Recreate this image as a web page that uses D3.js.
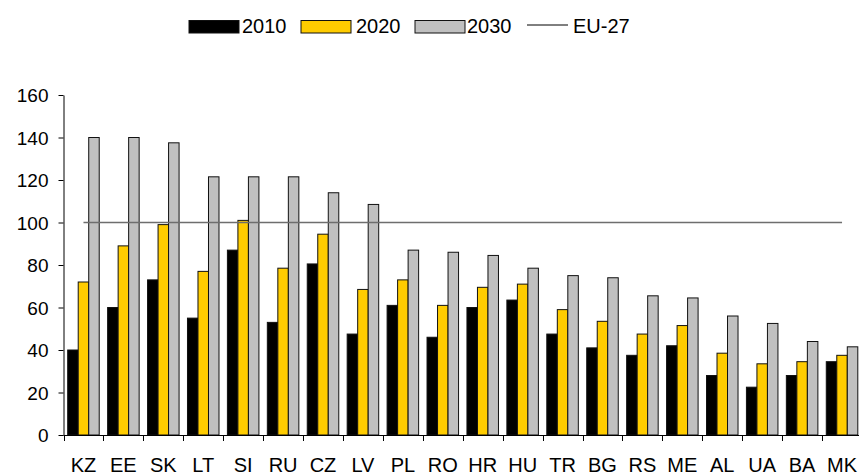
<!DOCTYPE html>
<html>
<head>
<meta charset="utf-8">
<script src="https://cdn.jsdelivr.net/npm/d3@7"></script>
<style>
  html, body { margin: 0; padding: 0; background: #fff; overflow: hidden; }
  svg { display: block; font-family: "Liberation Sans", Arial, sans-serif; }
</style>
</head>
<body>
<svg id="chart" width="859" height="475"></svg>
<script>
// Countries along the x axis
const categories = ["KZ","EE","SK","LT","SI","RU","CZ","LV","PL","RO","HR","HU","TR","BG","RS","ME","AL","UA","BA","MK"];
// Index values per year
const v2010 = [40, 60, 73, 55, 87, 53, 80.5, 47.5, 61, 46, 60, 63.5, 47.5, 41, 37.5, 42, 28, 22.5, 28, 34.5];
const v2020 = [72, 89, 99, 77, 101, 78.5, 94.5, 68.5, 73, 61, 69.5, 71, 59, 53.5, 47.5, 51.5, 38.5, 33.5, 34.5, 37.5];
const v2030 = [140, 140, 137.5, 121.5, 121.5, 121.5, 114, 108.5, 87, 86, 84.5, 78.5, 75, 74, 65.5, 64.5, 56, 52.5, 44, 41.5];
const seriesNames = ["2010", "2020", "2030"];
const seriesColors = ["#000000", "#FFCC00", "#C0C0C0"];
const euLabel = "EU-27";
const euLevel = 100;
const yTicks = [0, 20, 40, 60, 80, 100, 120, 140, 160];

const seriesValues = [v2010, v2020, v2030];
const svg = d3.select("#chart");

const plot = { left: 63.5, right: 862, top: 95, bottom: 435 };

const x = d3.scaleBand().domain(categories).range([plot.left, plot.right]).padding(0);
const xs = d3.scaleBand().domain(seriesNames).range([0, x.bandwidth()])
  .paddingInner(0).paddingOuter(0.4);
const y = d3.scaleLinear().domain([0, 160]).range([plot.bottom, plot.top]);

// Bars
const rows = categories.map((c, i) => ({ c, vals: seriesNames.map((s, k) => ({ s, k, v: seriesValues[k][i] })) }));
const groups = svg.append("g").selectAll("g").data(rows).join("g")
  .attr("transform", d => `translate(${x(d.c)},0)`);
groups.selectAll("rect").data(d => d.vals).join("rect")
  .attr("x", d => xs(d.s))
  .attr("y", d => y(d.v))
  .attr("width", xs.bandwidth())
  .attr("height", d => y(0) - y(d.v))
  .attr("fill", d => seriesColors[d.k])
  .attr("stroke", "#111")
  .attr("stroke-width", 1);

// EU-27 reference line, from first to last category centre
svg.append("line")
  .attr("x1", x(categories[0]) + x.bandwidth() / 2)
  .attr("x2", x(categories[categories.length - 1]) + x.bandwidth() / 2)
  .attr("y1", y(euLevel)).attr("y2", y(euLevel))
  .attr("stroke", "#6e6e6e").attr("stroke-width", 1.5);

// Y axis
const yAxis = svg.append("g")
  .attr("transform", `translate(${plot.left},0)`)
  .call(d3.axisLeft(y).tickValues(yTicks).tickSize(5).tickPadding(10).tickSizeOuter(0));
yAxis.select(".domain").attr("stroke", "#000");
yAxis.selectAll(".tick line").attr("stroke", "#000");
yAxis.selectAll(".tick text").attr("font-size", 19).attr("fill", "#000")
  .attr("font-family", "Liberation Sans, Arial, sans-serif").attr("dy", "0.36em");

// X axis: line, ticks on category boundaries, labels at centres
const xAxis = svg.append("g");
xAxis.append("line")
  .attr("x1", plot.left).attr("x2", plot.right)
  .attr("y1", y(0) + 0.5).attr("y2", y(0) + 0.5)
  .attr("stroke", "#000");
const bounds = categories.map(c => x(c)).concat([x(categories[categories.length - 1]) + x.bandwidth()]);
xAxis.selectAll("line.tick").data(bounds).join("line")
  .attr("class", "tick")
  .attr("x1", d => Math.round(d) + 0.5).attr("x2", d => Math.round(d) + 0.5)
  .attr("y1", y(0)).attr("y2", y(0) + 6)
  .attr("stroke", "#000");
xAxis.selectAll("text").data(categories).join("text")
  .attr("x", d => x(d) + x.bandwidth() / 2)
  .attr("y", 472)
  .attr("text-anchor", "middle")
  .attr("font-size", 20)
  .attr("fill", "#000")
  .text(d => d);

// Legend
const legend = svg.append("g");
const legendItems = [
  { type: "rect", k: 0, x: 189, tx: 242, label: seriesNames[0] },
  { type: "rect", k: 1, x: 301, tx: 356, label: seriesNames[1] },
  { type: "rect", k: 2, x: 415, tx: 467, label: seriesNames[2] },
  { type: "line", x: 527, tx: 573, label: euLabel }
];
legendItems.forEach(it => {
  if (it.type === "rect") {
    legend.append("rect")
      .attr("x", it.x).attr("y", 20.5).attr("width", 50).attr("height", 12.5)
      .attr("fill", seriesColors[it.k]).attr("stroke", "#111").attr("stroke-width", 1);
  } else {
    legend.append("line")
      .attr("x1", it.x).attr("x2", it.x + 41)
      .attr("y1", 25).attr("y2", 25)
      .attr("stroke", "#000").attr("stroke-width", 1);
  }
  legend.append("text")
    .attr("x", it.tx).attr("y", 32.5)
    .attr("font-size", 20).attr("fill", "#000")
    .text(it.label);
});
</script>
</body>
</html>
